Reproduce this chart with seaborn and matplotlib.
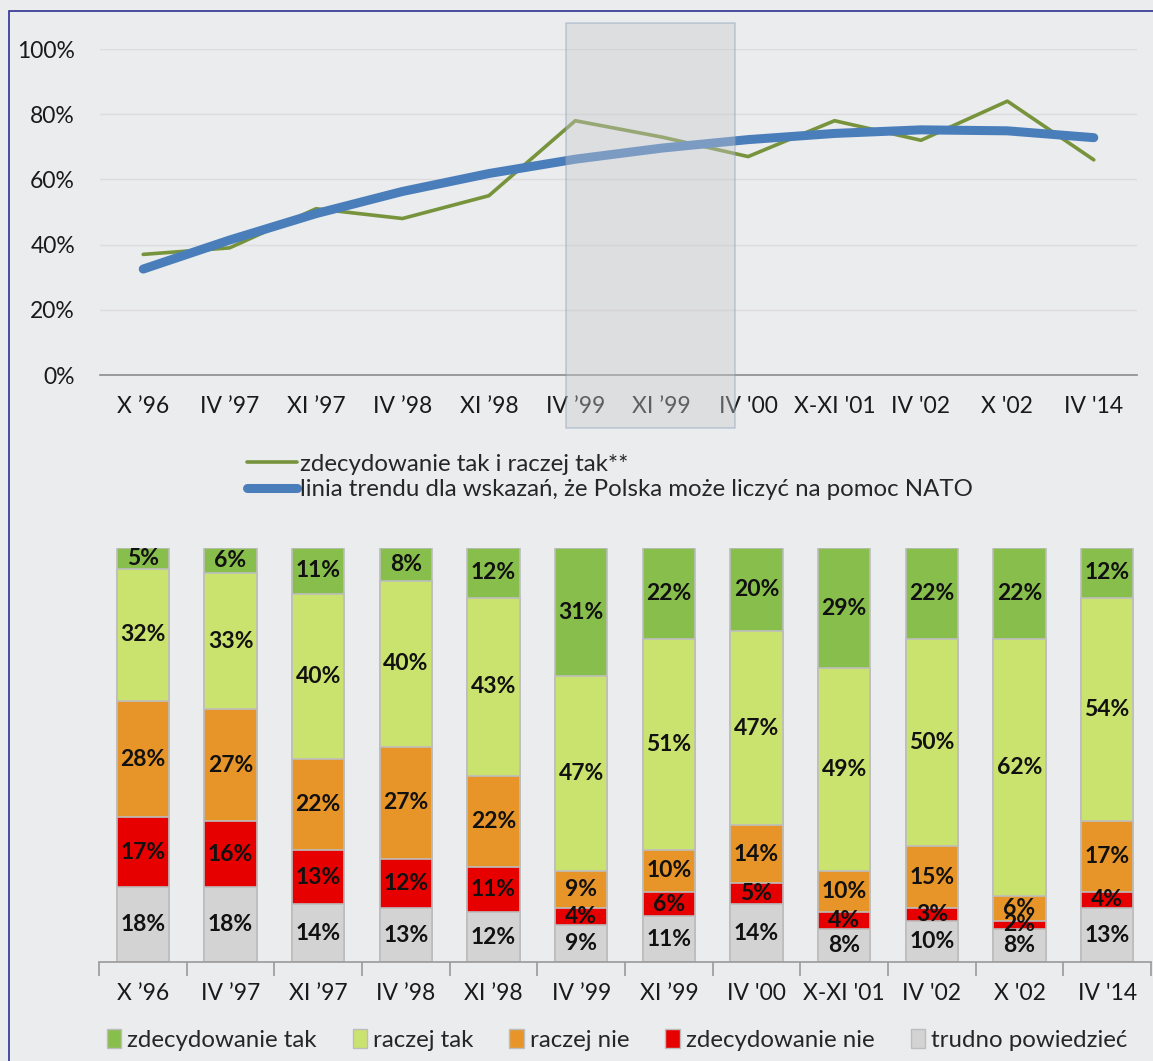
import numpy as np
import pandas as pd
import seaborn as sns
import matplotlib.pyplot as plt
from matplotlib.patches import Rectangle, Patch
from matplotlib.lines import Line2D

# ------------------------------------------------------------------
# data
# ------------------------------------------------------------------
periods = ["X \u201996", "IV \u201997", "XI \u201997", "IV \u201998", "XI \u201998",
           "IV \u201999", "XI \u201999", "IV '00", "X-XI '01", "IV '02", "X '02", "IV '14"]

zdec_tak = [5, 6, 11, 8, 12, 31, 22, 20, 29, 22, 22, 12]
raczej_tak = [32, 33, 40, 40, 43, 47, 51, 47, 49, 50, 62, 54]
raczej_nie = [28, 27, 22, 27, 22, 9, 10, 14, 10, 15, 6, 17]
zdec_nie = [17, 16, 13, 12, 11, 4, 6, 5, 4, 3, 2, 4]
trudno = [18, 18, 14, 13, 12, 9, 11, 14, 8, 10, 8, 13]

# "zdecydowanie tak i raczej tak" line and the trend line (values at each period)
tak_total = [37, 39, 51, 48, 55, 78, 73, 67, 78, 72, 84, 66]
trend = [32.5, 41.4, 49.5, 56.3, 61.8, 66.2, 69.6, 72.2, 74.1, 75.2, 74.9, 72.8]

series_names = ["zdecydowanie tak", "raczej tak", "raczej nie", "zdecydowanie nie", "trudno powiedzieć"]
series_colors = ["#88BE4C", "#CAE36F", "#E79428", "#E60000", "#D3D3D3"]

BG = "#EBECEE"

sns.set_theme(style="white")
plt.rcParams["font.family"] = ["Lato", "DejaVu Sans"]
plt.rcParams["axes.facecolor"] = BG
plt.rcParams["figure.facecolor"] = BG

fig = plt.figure(figsize=(11.53, 10.61), dpi=100)
W, H = 1153, 1061


def box(l, t, r, b):
    return [l / W, 1 - b / H, (r - l) / W, (b - t) / H]


# ------------------------------------------------------------------
# top: line chart
# ------------------------------------------------------------------
ax1 = fig.add_axes(box(100, 49, 1137, 375))
df_line = pd.DataFrame({"period": periods, "tak": tak_total, "trend": trend,
                        "pos": range(len(periods))})
sns.lineplot(data=df_line, x="pos", y="tak", color="#77933C", lw=2.6, sort=False, ax=ax1)
sns.lineplot(data=df_line, x="pos", y="trend", color="#4A7EBB", lw=6.5, sort=False,
             solid_capstyle="round", ax=ax1)
ax1.set_xlim(-0.5, len(periods) - 0.5)
ax1.set_ylim(0, 100)
ax1.set_yticks(range(0, 101, 20))
ax1.set_yticklabels([f"{v}%" for v in range(0, 101, 20)])
ax1.set_xticks(range(len(periods)))
ax1.set_xticklabels(periods)
ax1.set_xlabel("")
ax1.set_ylabel("")
ax1.yaxis.grid(True, color="#DCDCDE", lw=1)
ax1.set_axisbelow(True)
for s in ["top", "right", "left"]:
    ax1.spines[s].set_visible(False)
ax1.spines["bottom"].set_color("#8C8C8C")
ax1.spines["bottom"].set_linewidth(1.2)
ax1.tick_params(axis="both", length=0, labelsize=16.5, colors="#1A1A1A")
ax1.tick_params(axis="x", pad=15)
ax1.tick_params(axis="y", pad=18)

# shaded highlight box over IV '99 - XI '99
ax1.add_patch(Rectangle((4.89, -16.3), 1.96, 124.3, facecolor="#C9C9CD", alpha=0.4,
                        edgecolor="#7F97B5", lw=1.2, clip_on=False, zorder=5))

handles_top = [Line2D([], [], color="#77933C", lw=2.6),
               Line2D([], [], color="#4A7EBB", lw=6.5, solid_capstyle="round")]
fig.legend(handles_top, ["zdecydowanie tak i raczej tak**",
                         "linia trendu dla wskazań, że Polska może liczyć na pomoc NATO"],
           loc="center left", bbox_to_anchor=(247 / W, 1 - 477 / H), frameon=False,
           fontsize=17.3, handlelength=2.1, handletextpad=0.1, labelspacing=0.2,
           borderpad=0, borderaxespad=0)

# ------------------------------------------------------------------
# bottom: 100% stacked bars
# ------------------------------------------------------------------
ax2 = fig.add_axes(box(99, 548, 1151, 962))
stack = [trudno, zdec_nie, raczej_nie, raczej_tak, zdec_tak]   # bottom -> top
stack_colors = series_colors[::-1]
cum = np.cumsum(np.array(stack), axis=0)

# draw from tallest to shortest so every segment shows through
for i in range(len(stack) - 1, -1, -1):
    sns.barplot(x=periods, y=cum[i], color=stack_colors[i], saturation=1, width=0.6,
                edgecolor="#BDBDBD", linewidth=1.2, ax=ax2)

for i in range(len(stack)):
    bottoms = cum[i] - np.array(stack[i])
    for j, v in enumerate(stack[i]):
        ax2.text(j, bottoms[j] + v / 2, f"{v}%", ha="center", va="center",
                 fontsize=16.5, fontweight="bold", color="#111111")

ax2.set_xlim(-0.5, len(periods) - 0.5)
ax2.set_ylim(0, 100)
ax2.set_yticks([])
ax2.set_ylabel("")
for s in ["top", "right", "left"]:
    ax2.spines[s].set_visible(False)
ax2.spines["bottom"].set_color("#9A9A9A")
ax2.spines["bottom"].set_linewidth(1.2)
ax2.set_xticks(np.arange(-0.5, len(periods)), minor=True)
ax2.tick_params(axis="x", which="minor", length=10, width=1.2, color="#9A9A9A", bottom=True)
ax2.tick_params(axis="x", which="major", length=0, pad=15, labelsize=16.5, colors="#1A1A1A")

handles_bot = [Patch(facecolor=c, edgecolor="#BDBDBD") for c in series_colors]
fig.legend(handles_bot, series_names, loc="center", bbox_to_anchor=(617 / W, 1 - 1040 / H),
           ncol=5, frameon=False, fontsize=17.3, handlelength=0.6, handleheight=0.8,
           handletextpad=0.25, columnspacing=1.5, borderpad=0, borderaxespad=0)

# thin frame around the whole figure (cut off at right and bottom)
fig.patches.append(Rectangle((9 / W, -0.1), 1.2, 1 - 11 / H + 0.1, transform=fig.transFigure,
                             fill=False, edgecolor="#2E3192", lw=1.2))

fig.savefig("out.png", dpi=100, facecolor=BG)
